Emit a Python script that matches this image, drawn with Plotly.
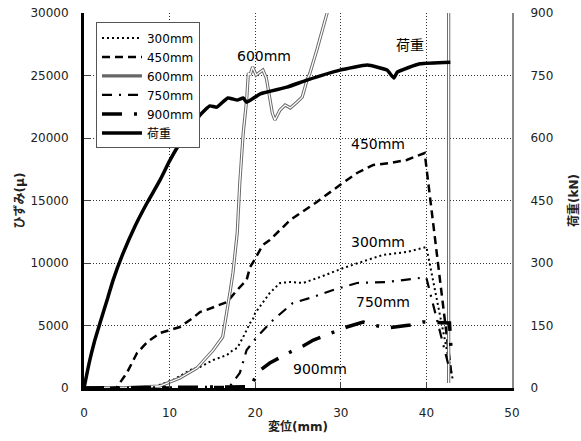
import plotly.graph_objects as go

# ---- data (displacement mm, strain μ) ----
x300 = [0, 5, 8.5, 10.4, 12.4, 13.55, 15.1, 16.7, 17.4, 17.9, 18.6, 19.4, 19.7, 20.0, 21.7, 22.9, 24.1, 25.6, 27.6, 30.3, 33.1, 34.9, 37.7, 40.0, 43.1]
y300 = [0, 20, 160, 640, 1440, 1680, 2240, 2640, 3040, 3200, 4080, 5200, 5440, 6000, 7600, 8400, 8480, 8400, 8880, 9600, 10240, 10640, 10880, 11280, 600]

x450 = [0, 3.0, 3.85, 5.0, 6.2, 7.4, 8.9, 10.0, 11.2, 12.7, 13.55, 14.3, 15.9, 16.7, 17.9, 19.0, 19.4, 19.7, 20.9, 21.7, 24.1, 27.2, 29.9, 31.9, 33.8, 35.7, 37.7, 39.8, 42.9]
y450 = [0, 0, 80, 1200, 2800, 3680, 4400, 4640, 4880, 5600, 6080, 6240, 6640, 6880, 7840, 8640, 9680, 10000, 11440, 11840, 13440, 14880, 16240, 17200, 17840, 18000, 18240, 18800, 1200]

x600 = [0, 5, 8.88, 11.2, 13.2, 15.1, 16.2, 16.7, 17.1, 17.4, 17.9, 18.2, 18.6, 19.0, 19.2, 19.4, 19.7, 20.1, 20.6, 20.9, 21.3, 22.0, 22.3, 22.9, 23.5, 24.1, 24.9, 25.5, 26.05, 26.4, 27.2, 27.9, 28.4, 29.5, 42.6, 42.6]
y600 = [0, 30, 160, 800, 1600, 3040, 4080, 6000, 7840, 9200, 12400, 16400, 20400, 23040, 25200, 25040, 25680, 25040, 25280, 25440, 24800, 22000, 21440, 22240, 22640, 22400, 22880, 23280, 24640, 25200, 27040, 28880, 30000, 34000, 40000, 400]

x750 = [0, 10, 17.0, 18.2, 19.0, 20.2, 22.1, 24.4, 26.4, 29.1, 31.9, 35.4, 39.25, 40.0, 42.7]
y750 = [0, 40, 100, 1200, 3040, 4080, 5440, 6800, 7200, 7840, 8400, 8480, 8800, 8800, 1500]

x900 = [0, 10, 18.0, 19.5, 20.3, 21.7, 24.1, 25.6, 26.8, 28.4, 30.7, 32.6, 33.8, 35.4, 38.1, 39.6, 42.7, 42.9]
y900 = [0, 30, 50, 100, 1280, 2000, 2880, 3360, 3840, 4240, 4880, 5280, 5040, 4800, 5040, 5280, 5200, 2800]

# load (kN) on right axis
xload = [0, 0.2, 0.6, 1.2, 1.87, 2.8, 3.4, 4.5, 6.0, 7.36, 8.88, 10.0, 11.2, 12.2, 13.3, 13.55, 14.7, 15.5, 16.8, 17.9, 18.6, 19.0, 20.6, 23.7, 26.05, 29.9, 33.1, 35.4, 36.2, 36.6, 39.25, 42.8]
yload = [0, 20, 60, 110, 156, 218, 259, 320, 390, 444, 499, 545, 588, 620, 648, 655, 677, 674, 696, 691, 696, 686, 706, 722, 739, 763, 775, 763, 744, 758, 778, 782]

x_ticks = [0, 10, 20, 30, 40, 50]
y_ticks = [0, 5000, 10000, 15000, 20000, 25000, 30000]
y2_ticks = [0, 150, 300, 450, 600, 750, 900]

labels = ["300mm", "450mm", "600mm", "750mm", "900mm", "荷重"]

FONT = "DejaVu Sans, Noto Sans CJK JP"
GRID = "1px,2px"

fig = go.Figure()
fig.add_trace(go.Scatter(x=x300, y=y300, mode="lines", name=labels[0],
                         line=dict(color="black", width=2, dash="2px,3px")))
fig.add_trace(go.Scatter(x=x450, y=y450, mode="lines", name=labels[1],
                         line=dict(color="black", width=2.5, dash="8px,5px")))
fig.add_trace(go.Scatter(x=x600, y=y600, mode="lines", name=labels[2],
                         line=dict(color="#666666", width=3.2)))
fig.add_trace(go.Scatter(x=x600, y=y600, mode="lines", name=labels[2], showlegend=False,
                         line=dict(color="white", width=1.3)))
fig.add_trace(go.Scatter(x=x750, y=y750, mode="lines", name=labels[3],
                         line=dict(color="black", width=2.2, dash="10px,7px,2px,7px")))
fig.add_trace(go.Scatter(x=x900, y=y900, mode="lines", name=labels[4],
                         line=dict(color="black", width=3.5, dash="20px,12px,3px,12px")))
fig.add_trace(go.Scatter(x=xload, y=yload, mode="lines", name=labels[5], yaxis="y2",
                         line=dict(color="black", width=3.5, shape="spline", smoothing=0.4)))

ann = [
    ("600mm", 21.0, 26560),
    ("荷重", 38.1, 27440),
    ("450mm", 34.3, 19520),
    ("300mm", 34.3, 11680),
    ("750mm", 34.9, 6880),
    ("900mm", 27.6, 1520),
]
for t, ax_, ay_ in ann:
    fig.add_annotation(x=ax_, y=ay_, text=t, showarrow=False,
                       font=dict(family=FONT, size=14, color="black"))

fig.update_layout(
    width=581, height=441,
    margin=dict(l=84, r=69, t=13, b=53, autoexpand=False),
    paper_bgcolor="white", plot_bgcolor="white",
    font=dict(family=FONT, size=12, color="#222"),
    showlegend=True,
    legend=dict(x=0.028, y=0.975, xanchor="left", yanchor="top",
                bgcolor="white", bordercolor="#555", borderwidth=1,
                font=dict(family=FONT, size=12, color="black"),
                tracegroupgap=0, itemwidth=40),
    xaxis=dict(range=[0, 50], tickvals=x_ticks, ticktext=[str(v) for v in x_ticks],
               showgrid=True, gridcolor="#333", griddash=GRID, gridwidth=1,
               showline=True, linecolor="black", linewidth=3, automargin=False,
               ticks="inside", ticklen=6, tickcolor="#444", ticklabelstandoff=12,
               zeroline=False,
               title=dict(text="<b>変位(mm)</b>", font=dict(family=FONT, size=12), standoff=4)),
    yaxis=dict(range=[0, 30000], tickvals=y_ticks, ticktext=[str(v) for v in y_ticks],
               showgrid=True, gridcolor="#333", griddash=GRID, gridwidth=1,
               showline=True, linecolor="black", linewidth=3, automargin=False,
               ticks="inside", ticklen=6, tickcolor="#444", ticklabelstandoff=10,
               zeroline=False,
               title=dict(text="<b>ひずみ(μ)</b>", font=dict(family=FONT, size=12), standoff=4)),
    yaxis2=dict(range=[0, 900], tickvals=y2_ticks, ticktext=[str(v) for v in y2_ticks],
                overlaying="y", side="right", automargin=False,
                showgrid=False, showline=True, linecolor="#888", linewidth=2,
                ticks="", zeroline=False, ticklabelstandoff=14,
                title=dict(text="<b>荷重(kN)</b>", font=dict(family=FONT, size=12), standoff=22)),
)

fig.write_html("out.html")
